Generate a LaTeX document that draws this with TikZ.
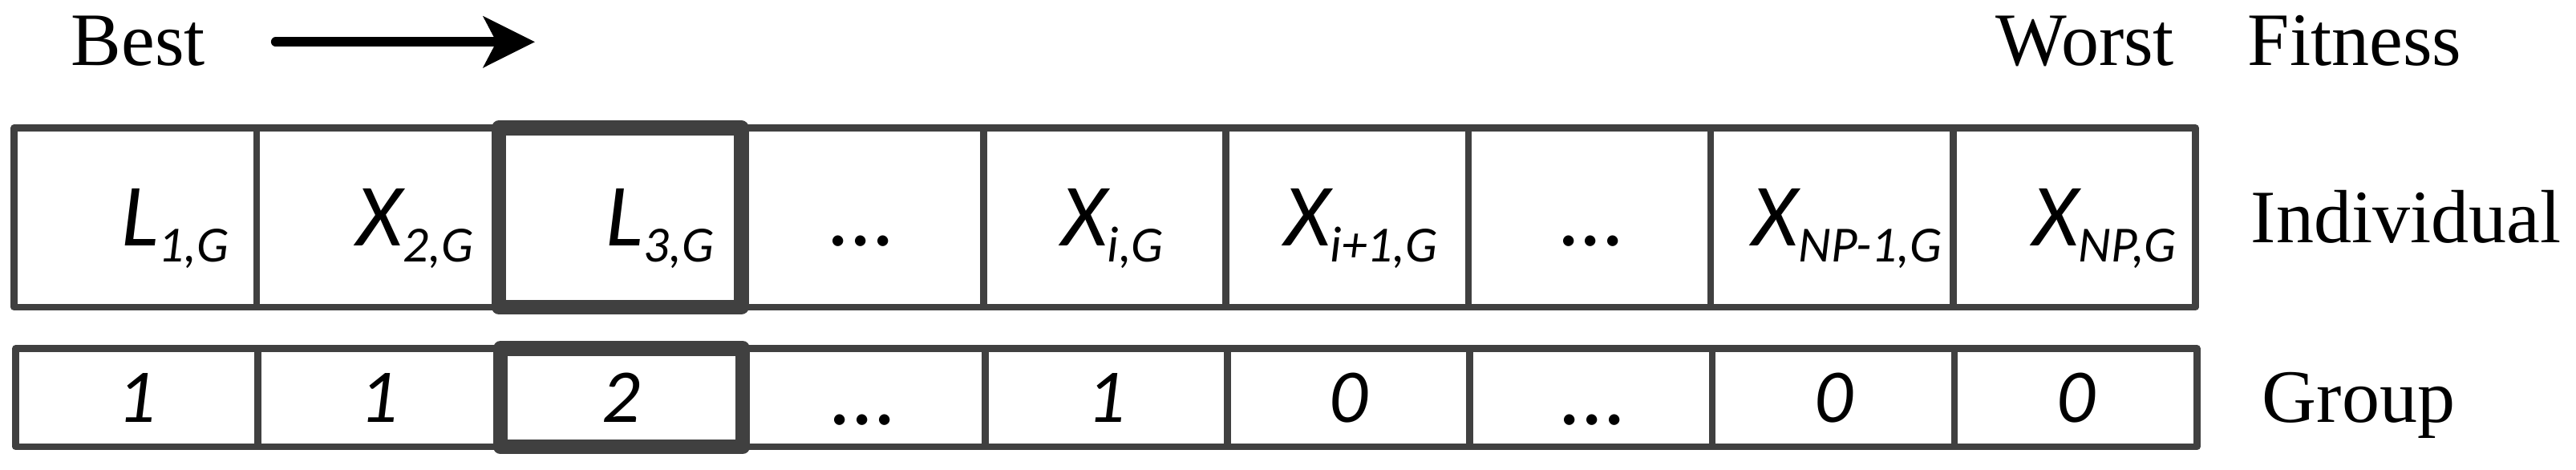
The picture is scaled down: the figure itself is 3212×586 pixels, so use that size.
\documentclass[tikz,border=0pt]{standalone}
\usepackage{fontspec}
\setmainfont{Liberation Serif}
\newfontfamily\calibri{Carlito}
\usetikzlibrary{arrows.meta,positioning}
\definecolor{boxgray}{RGB}{64,64,64}
\tikzset{
  cell/.style={draw=boxgray, line width=2.15pt, line join=round, outer sep=0pt, inner sep=0pt, minimum width=75.55pt},
  indcell/.style={cell, minimum height=55.875pt},
  grpcell/.style={cell, minimum height=30.625pt},
  hilite/.style={draw=boxgray, line width=4.6pt, line join=round},
  lbl/.style={anchor=base west, inner sep=0pt, font=\fontsize{23.5}{28}\selectfont},
  celltxt/.style={anchor=base, inner sep=0pt, font=\calibri\itshape\fontsize{27.7}{30}\selectfont},
  grptxt/.style={anchor=base, inner sep=0pt, font=\calibri\itshape\fontsize{23.7}{26}\selectfont},
}
\newcommand{\cellsub}[1]{{\fontsize{15.8}{16}\selectfont\raisebox{-5pt}{#1}}}
\begin{document}
\begin{tikzpicture}[x=0.25pt,y=-0.25pt]
\useasboundingbox (0,0) rectangle (3212,586);

%Row: Individual
\node[indcell] (ind1) at (168.8,271.25) {};
\node[indcell, right=0pt of ind1] (ind2) {};
\node[indcell, right=0pt of ind2] (ind3) {};
\node[indcell, right=0pt of ind3] (ind4) {};
\node[indcell, right=0pt of ind4] (ind5) {};
\node[indcell, right=0pt of ind5] (ind6) {};
\node[indcell, right=0pt of ind6] (ind7) {};
\node[indcell, right=0pt of ind7] (ind8) {};
\node[indcell, right=0pt of ind8] (ind9) {};

%Row: Group
\node[grpcell] (grp1) at (170.6,495.75) {};
\node[grpcell, right=0pt of grp1] (grp2) {};
\node[grpcell, right=0pt of grp2] (grp3) {};
\node[grpcell, right=0pt of grp3] (grp4) {};
\node[grpcell, right=0pt of grp4] (grp5) {};
\node[grpcell, right=0pt of grp5] (grp6) {};
\node[grpcell, right=0pt of grp6] (grp7) {};
\node[grpcell, right=0pt of grp7] (grp8) {};
\node[grpcell, right=0pt of grp8] (grp9) {};

%Shape: Rectangle (selected leader)
\draw[hilite] (ind3.north west) rectangle (ind3.south east);
\draw[hilite] (grp3.north west) rectangle (grp3.south east);

% Text Node
\node[celltxt] (indtxt1) at ([shift={(49.7,35.5)}]ind1.center) {L\cellsub{1,G}};
\node[celltxt] (indtxt2) at ([shift={(46.5,35.5)}]ind2.center) {X\cellsub{2,G}};
\node[celltxt] (indtxt3) at ([shift={(49.8,35.5)}]ind3.center) {L\cellsub{3,G}};
\node[celltxt] (indtxt4) at ([shift={(0,35.5)}]ind4.center) {...};
\node[celltxt] (indtxt5) at ([shift={(9.4,35.5)}]ind5.center) {X\cellsub{i,G}};
\node[celltxt] (indtxt6) at ([shift={(17,35.5)}]ind6.center) {X\cellsub{i+1,G}};
\node[celltxt] (indtxt7) at ([shift={(4,35.5)}]ind7.center) {...};
\node[celltxt] (indtxt8) at ([shift={(19,35.5)}]ind8.center) {X\cellsub{NP-1,G}};
\node[celltxt] (indtxt9) at ([shift={(37.6,35.5)}]ind9.center) {X\cellsub{NP,G}};

% Text Node
\node[grptxt] (grptxt1) at ([shift={(0,31)}]grp1.center) {1};
\node[grptxt] (grptxt2) at ([shift={(0,31)}]grp2.center) {1};
\node[grptxt] (grptxt3) at ([shift={(0,31)}]grp3.center) {2};
\node[celltxt] (grptxt4) at ([shift={(0,34)}]grp4.center) {...};
\node[grptxt] (grptxt5) at ([shift={(0,31)}]grp5.center) {1};
\node[grptxt] (grptxt6) at ([shift={(0,31)}]grp6.center) {0};
\node[celltxt] (grptxt7) at ([shift={(4,34)}]grp7.center) {...};
\node[grptxt] (grptxt8) at ([shift={(0,31)}]grp8.center) {0};
\node[grptxt] (grptxt9) at ([shift={(0,31)}]grp9.center) {0};

%Straight Lines (fitness order)
\coordinate (arrtail) at (343.7,52.3);
\coordinate (arrhead) at (667,52.3);
\draw[line width=2.9pt, line cap=round, -{Stealth[length=16pt,width=15.75pt,inset=4pt]}] (arrtail) -- (arrhead);

% Text Node
\node[lbl] (best) at (87.8,81.7) {Best};
\node[lbl] (worst) at (2488,82) {Worst};
\node[lbl] (fitness) at (2802,82) {Fitness};
\node[lbl] (individual) at (2806,303) {Individual};
\node[lbl] (group) at (2820,526.5) {Group};

\end{tikzpicture}
\end{document}
